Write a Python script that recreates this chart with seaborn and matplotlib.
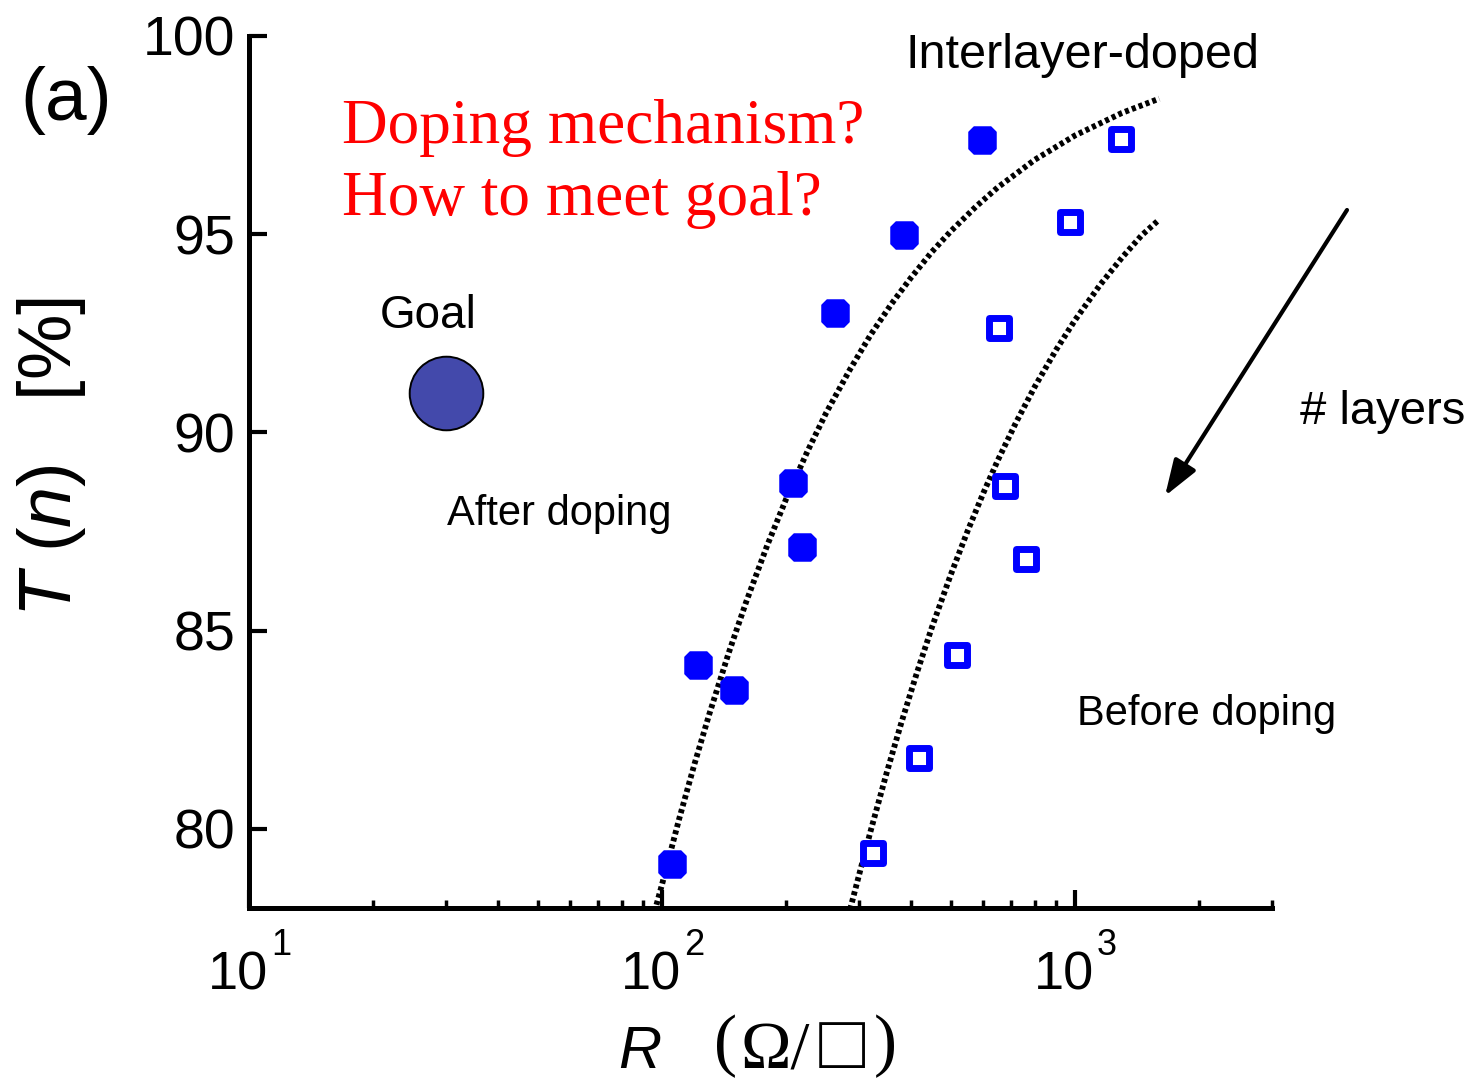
import matplotlib
matplotlib.use("Agg")
import matplotlib.pyplot as plt
import matplotlib.transforms as mtrans
from matplotlib.path import Path
import seaborn as sns
from matplotlib.ticker import FixedLocator, FixedFormatter, NullFormatter

# ---------------- data ----------------
after_R = [596, 386, 263, 208, 218, 122, 149, 106]
after_T = [97.38, 94.98, 93.01, 88.73, 87.11, 84.14, 83.51, 79.12]

before_R = [1291, 972, 655, 678, 762, 519, 418, 324]
before_T = [97.40, 95.31, 92.64, 88.65, 86.81, 84.39, 81.79, 79.39]

goal_R = [30]
goal_T = [91]

fit_after_R = [90, 96.5, 100, 110, 120, 130, 145, 160, 180, 200, 225, 250, 285,
               320, 360, 400, 450, 500, 575, 650, 800, 1000, 1300, 1600]
fit_after_T = [76.65, 78.0, 78.59, 80.24, 81.65, 82.87, 84.43, 85.73, 87.16, 88.33,
               89.52, 90.50, 91.58, 92.46, 93.25, 93.89, 94.55, 95.07, 95.69, 96.18,
               96.88, 97.49, 98.06, 98.42]

fit_before_R = [270, 286, 300, 320, 350, 380, 415, 450, 500, 550, 600, 650, 720,
                800, 900, 1000, 1150, 1300, 1450, 1600]
fit_before_T = [76.89, 78.0, 78.83, 79.94, 81.41, 82.68, 83.96, 85.07, 86.40, 87.52,
                88.47, 89.29, 90.25, 91.16, 92.08, 92.83, 93.72, 94.41, 94.97, 95.37]

x_major = [10, 100, 1000]
x_major_exp = ["1", "2", "3"]
x_minor = [20, 30, 40, 50, 60, 70, 80, 90, 200, 300, 400, 500, 600, 700, 800, 900,
           2000, 3000]
y_ticks = [80, 85, 90, 95, 100]
y_tick_labels = ["80", "85", "90", "95", "100"]

# ---------------- style ----------------
sns.set_theme(style="white")
SANS = "Liberation Sans"
SERIF = "Liberation Serif"
plt.rcParams["font.family"] = [SANS, "DejaVu Sans"]
plt.rcParams["mathtext.fontset"] = "custom"
plt.rcParams["mathtext.rm"] = SANS
plt.rcParams["mathtext.it"] = SANS + ":italic"
plt.rcParams["mathtext.bf"] = SANS + ":bold"
for k in ["text.color", "axes.labelcolor", "xtick.color", "ytick.color",
          "xtick.labelcolor", "ytick.labelcolor"]:
    plt.rcParams[k] = "black"

W, H = 1471, 1082
fig = plt.figure(figsize=(W / 100, H / 100), dpi=100)
fig.patch.set_facecolor("white")


def fx(p):
    return p / W


def fy(p):
    return 1 - p / H


ax = fig.add_axes([fx(249), fy(908), (1272 - 249) / W, (908 - 36) / H])
ax.set_facecolor("white")

BLUE = "#0000ff"
c = 0.62
octo = Path([(-1, -c), (-c, -1), (c, -1), (1, -c), (1, c), (c, 1), (-c, 1), (-1, c),
             (-1, -c)], closed=True)

# fitted curves (dotted)
dot = (0, (0.7, 0.55))
sns.lineplot(x=fit_after_R, y=fit_after_T, ax=ax, color="black", lw=4.2,
             linestyle=dot, sort=False, estimator=None)
sns.lineplot(x=fit_before_R, y=fit_before_T, ax=ax, color="black", lw=4.2,
             linestyle=dot, sort=False, estimator=None)

# after doping: filled (rounded) squares
sns.scatterplot(x=after_R, y=after_T, ax=ax, marker=octo, s=19.5 ** 2,
                color=BLUE, edgecolor=BLUE, linewidth=1, zorder=5)
# before doping: open squares
sns.scatterplot(x=before_R, y=before_T, ax=ax, marker="s", s=14.4 ** 2,
                facecolor="white", edgecolor=BLUE, linewidth=5, zorder=5)
# goal
sns.scatterplot(x=goal_R, y=goal_T, ax=ax, marker="o", s=53 ** 2,
                color="#4349ab", edgecolor="black", linewidth=1.4, zorder=5)

ax.set_xscale("log")
ax.set_xlim(10, 3000)
ax.set_ylim(78, 100)

ax.xaxis.set_major_locator(FixedLocator(x_major))
ax.xaxis.set_major_formatter(NullFormatter())
ax.xaxis.set_minor_locator(FixedLocator(x_minor))
ax.xaxis.set_minor_formatter(NullFormatter())
ax.yaxis.set_major_locator(FixedLocator(y_ticks))
ax.yaxis.set_major_formatter(FixedFormatter(y_tick_labels))

for s in ["top", "right"]:
    ax.spines[s].set_visible(False)
for s in ["left", "bottom"]:
    ax.spines[s].set_visible(True)
    ax.spines[s].set_color("black")
    ax.spines[s].set_linewidth(3.6)

ax.tick_params(axis="both", which="major", direction="in", length=13, width=3,
               color="black", bottom=True, left=True)
ax.tick_params(axis="x", which="minor", direction="in", length=6, width=2.5,
               color="black", bottom=True)
ax.tick_params(axis="y", which="major", labelsize=40, pad=10, labelcolor="black")
ax.set_xlabel("")
ax.set_ylabel("")
ax.grid(False)

# x tick labels: "10" with raised exponent
blend = mtrans.blended_transform_factory(ax.transData, fig.transFigure)
for v, e in zip(x_major, x_major_exp):
    tb = mtrans.offset_copy(blend, fig=fig, x=-11, y=0, units="dots")
    ax.text(v, fy(990), "10", transform=tb, ha="center", va="baseline",
            fontsize=39, color="black", clip_on=False)
    ts = mtrans.offset_copy(blend, fig=fig, x=22, y=0, units="dots")
    ax.text(v, fy(955), e, transform=ts, ha="left", va="baseline",
            fontsize=26, color="black", clip_on=False)

# ---------------- labels & annotations ----------------
fig.text(fx(52), fy(457), r"$T$ ($n$)   [%]", rotation=90, ha="center",
         va="center", fontsize=53, color="black")
fig.text(fx(618), fy(1068), r"$R$", ha="left", va="baseline", fontsize=43)
serif = [SERIF, "DejaVu Serif"]
fig.text(fx(714), fy(1063), "(", ha="left", va="baseline", fontsize=50, family=serif)
fig.text(fx(740), fy(1068), "Ω/", ha="left", va="baseline", fontsize=49, family=serif)
fig.text(fx(819), fy(1068), "□", ha="left", va="baseline", fontsize=55, family=serif)
fig.text(fx(897), fy(1063), ")", ha="right", va="baseline", fontsize=50, family=serif)

fig.text(fx(20), fy(100), "(a)", ha="left", va="center", fontsize=54)
fig.text(fx(905), fy(68), "Interlayer-doped", ha="left", va="baseline", fontsize=35)
fig.text(fx(342), fy(143), "Doping mechanism?", ha="left", va="baseline",
         fontsize=45.5, color="red", family=serif)
fig.text(fx(342), fy(215), "How to meet goal?", ha="left", va="baseline",
         fontsize=45.5, color="red", family=serif)
fig.text(fx(380), fy(328), "Goal", ha="left", va="baseline", fontsize=33)
fig.text(fx(447), fy(525), "After doping", ha="left", va="baseline", fontsize=30)
fig.text(fx(1077), fy(725), "Before doping", ha="left", va="baseline", fontsize=30)
fig.text(fx(1300), fy(424), "# layers", ha="left", va="baseline", fontsize=34)

fig.add_artist(matplotlib.patches.FancyArrowPatch(
    (fx(1347), fy(210)), (fx(1165), fy(496)), transform=fig.transFigure,
    arrowstyle="-|>,head_length=1.1,head_width=0.38", mutation_scale=20,
    color="black", lw=3, shrinkA=0, shrinkB=0))

fig.savefig("out.png", dpi=100, facecolor="white")
